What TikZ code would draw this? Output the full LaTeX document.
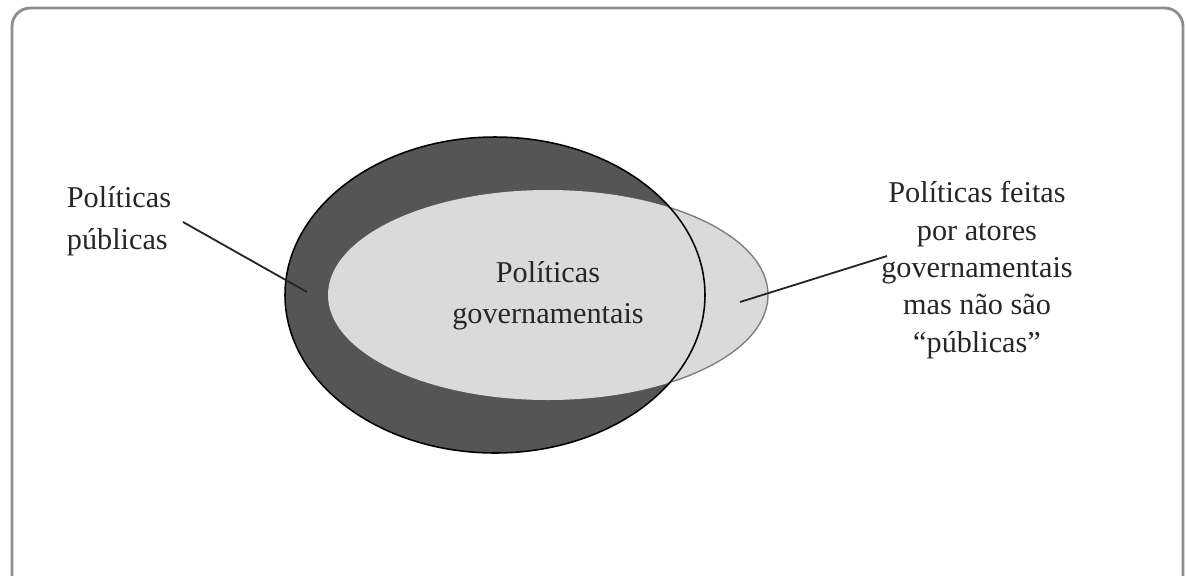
\documentclass[tikz,border=0pt]{standalone}
\usepackage{fontspec}
\setmainfont{Liberation Serif}
\usetikzlibrary{positioning}

\definecolor{ringdark}{HTML}{555555}
\definecolor{govlight}{HTML}{DADADA}
\definecolor{framegray}{HTML}{8E8E8E}
\definecolor{textgray}{HTML}{262626}

\tikzset{
  settext/.style={font=\fontsize{21.5}{29.5}\selectfont, text=textgray, align=center, inner sep=0pt},
  pointer/.style={line width=1.3pt, black!85},
}

\begin{document}
\begin{tikzpicture}[x=0.025cm, y=-0.025cm]
	\useasboundingbox (0,0) rectangle (1186,575);
	\clip (0,0) rectangle (1186,575);
	% frame, open at the bottom
	\draw [framegray, line width=2pt, rounded corners=13pt] (12,8) rectangle (1183,640);
	% the two sets
	\fill [ringdark] (495,295) ellipse [x radius=210, y radius=158];
	\fill [govlight] (548,295) ellipse [x radius=220, y radius=105];
	\begin{scope}
		\clip (668,0) rectangle (800,575);
		\draw [gray, line width=1pt] (548,295) ellipse [x radius=220, y radius=105];
	\end{scope}
	\draw [black, line width=1.1pt] (495,295) ellipse [x radius=210, y radius=158];
	% labels
	\node [settext, align=left] (pub) at (119,221) {Políticas\\públicas};
	\node [settext] (gov) at (548,296) {Políticas\\governamentais};
	\node [settext, font=\fontsize{21.5}{26.6}\selectfont] (naopub) at (977,270)
		{Políticas feitas\\por atores\\governamentais\\mas não são\\“públicas”};
	\coordinate (pubin) at (307,292);
	\coordinate (pubout) at (183,222);
	\coordinate (naopubin) at (740,302);
	\coordinate (naopubout) at (887,256);
	\draw [pointer] (pubout) -- (pubin);
	\draw [pointer] (naopubout) -- (naopubin);
\end{tikzpicture}
\end{document}
